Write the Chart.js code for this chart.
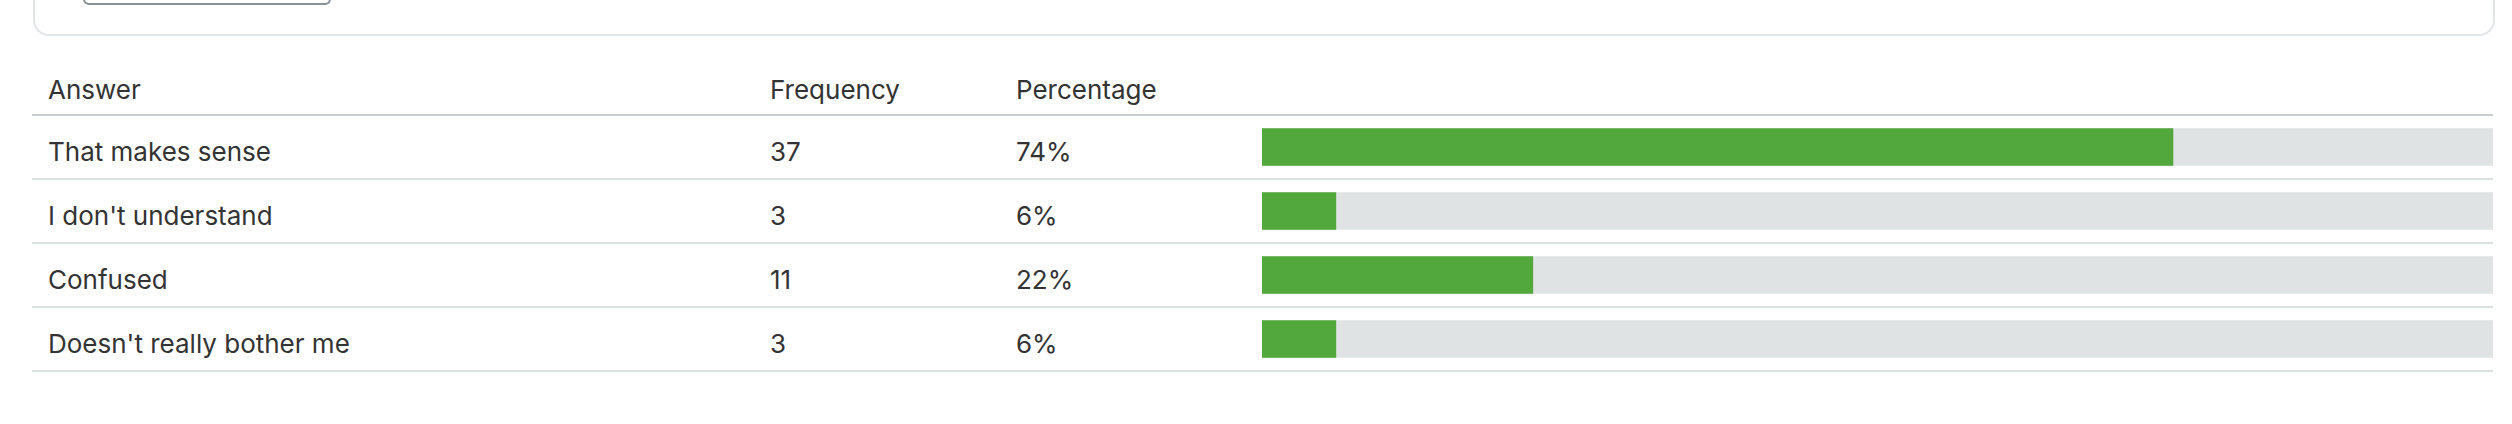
<!DOCTYPE html>
<html>
<head>
<meta charset="utf-8">
<script src="https://cdn.jsdelivr.net/npm/chart.js@4"></script>
<style>
  body { margin: 0; width: 2512px; height: 424px; background: #fff; font-family: Inter, "Noto Sans", sans-serif; color: #333; position: relative; overflow: hidden; }
  .card { position: absolute; left: 33px; top: -20px; width: 2458px; height: 54px; border: 2px solid #e2e5e7; border-top: none; border-radius: 0 0 16px 16px; }
  .btn { position: absolute; left: 83px; top: -20px; width: 244px; height: 23px; border: 2px solid #8a8f94; border-radius: 0 0 6px 6px; border-top: none; }
  .cell { position: absolute; font-size: 26px; line-height: 30px; white-space: nowrap; }
  .line { position: absolute; left: 32px; width: 2461px; height: 2px; background: #dde1e1; }
  .line.head { background: #c9cdd1; }
  #wrap { position: absolute; left: 1262px; top: 115px; width: 1231px; height: 256px; }
</style>
</head>
<body>
<div class="card"></div>
<div class="btn"></div>
<div id="table"></div>
<div id="wrap"><canvas id="bars"></canvas></div>
<script>
'use strict';

const answers = ['That makes sense', "I don't understand", 'Confused', "Doesn't really bother me"];
const frequency = [37, 3, 11, 3];
const percentage = [74, 6, 22, 6];
const headers = ['Answer', 'Frequency', 'Percentage'];

// table text and row lines
const table = document.getElementById('table');
const colX = [48, 770, 1016];
let html = '';
headers.forEach((h, i) => {
  html += `<div class="cell" style="left:${colX[i]}px;top:75px">${h}</div>`;
});
html += `<div class="line head" style="top:114px"></div>`;
answers.forEach((a, r) => {
  const y = 137 + r * 64;
  html += `<div class="cell" style="left:${colX[0]}px;top:${y}px">${a}</div>`;
  html += `<div class="cell" style="left:${colX[1]}px;top:${y}px">${frequency[r]}</div>`;
  html += `<div class="cell" style="left:${colX[2]}px;top:${y}px">${percentage[r]}%</div>`;
  html += `<div class="line" style="top:${178 + r * 64}px"></div>`;
});
table.innerHTML = html;

new Chart(document.getElementById('bars'), {
  type: 'bar',
  data: {
    labels: answers,
    datasets: [
      { data: percentage, backgroundColor: '#52a83d', barThickness: 37, grouped: false, order: 0 },
      { data: answers.map(() => 100), backgroundColor: '#dfe3e3', barThickness: 37, grouped: false, order: 1 }
    ]
  },
  options: {
    indexAxis: 'y',
    responsive: true,
    maintainAspectRatio: false,
    animation: false,
    layout: { padding: 0 },
    plugins: { legend: { display: false }, tooltip: { enabled: false } },
    scales: {
      x: { display: false, min: 0, max: 100 },
      y: { display: false }
    }
  }
});
</script>
</body>
</html>
